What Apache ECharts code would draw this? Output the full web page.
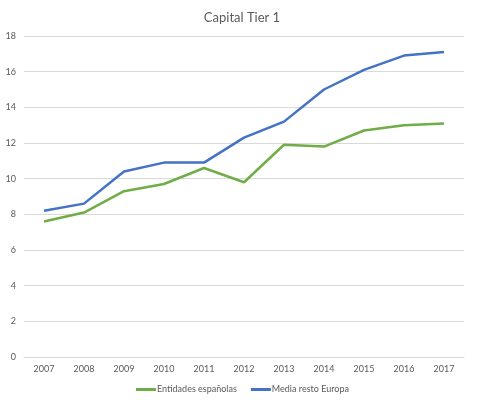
<!DOCTYPE html>
<html><head><meta charset="utf-8">
<script src="https://cdn.jsdelivr.net/npm/echarts@6/dist/echarts.min.js"></script>
<style>html,body{margin:0;padding:0;background:#fff}#c{width:504px;height:400px}</style>
</head><body><div id="c"></div>
<script>
const categories = ['2007','2008','2009','2010','2011','2012','2013','2014','2015','2016','2017'];
const entidadesEspanolas = [7.6, 8.1, 9.3, 9.7, 10.6, 9.8, 11.9, 11.8, 12.7, 13.0, 13.1];
const mediaRestoEuropa = [8.2, 8.6, 10.4, 10.9, 10.9, 12.3, 13.2, 15.0, 16.1, 16.9, 17.1];
const seriesNames = ['Entidades españolas', 'Media resto Europa'];
const chart = echarts.init(document.getElementById('c'));
const font = 'Lato, "Open Sans", sans-serif';
chart.setOption({
  animation: false,
  title: {text: 'Capital Tier 1', left: 237, textAlign: 'center', top: 6,
    textStyle: {fontFamily: font, fontSize: 13, fontWeight: 'normal', color: '#595959'}},
  legend: {bottom: 1, left: 131, itemWidth: 20, itemHeight: 3, itemGap: 14,
    icon: 'rect',
    textStyle: {fontFamily: font, fontSize: 9, color: '#595959', padding: [0,0,0,-4]},
    data: seriesNames},
  grid: {left: 24, right: 40, top: 36, bottom: 43},
  xAxis: {type: 'category', data: categories, boundaryGap: true,
    axisLine: {show: true, lineStyle: {color: '#D9D9D9'}}, axisTick: {show: false},
    axisLabel: {fontFamily: font, fontSize: 9, color: '#595959', margin: 8}},
  yAxis: {type: 'value', min: 0, max: 18, interval: 2,
    axisLine: {show: false}, axisTick: {show: false},
    splitLine: {lineStyle: {color: '#D9D9D9'}},
    axisLabel: {fontFamily: font, fontSize: 9, color: '#595959', margin: 8}},
  series: [
    {name: seriesNames[0], type: 'line', data: entidadesEspanolas, symbol: 'none',
      lineStyle: {color: '#70AD47', width: 2.5}, itemStyle: {color: '#70AD47'}},
    {name: seriesNames[1], type: 'line', data: mediaRestoEuropa, symbol: 'none',
      lineStyle: {color: '#4472C4', width: 2.5}, itemStyle: {color: '#4472C4'}}
  ]
});
</script></body></html>
